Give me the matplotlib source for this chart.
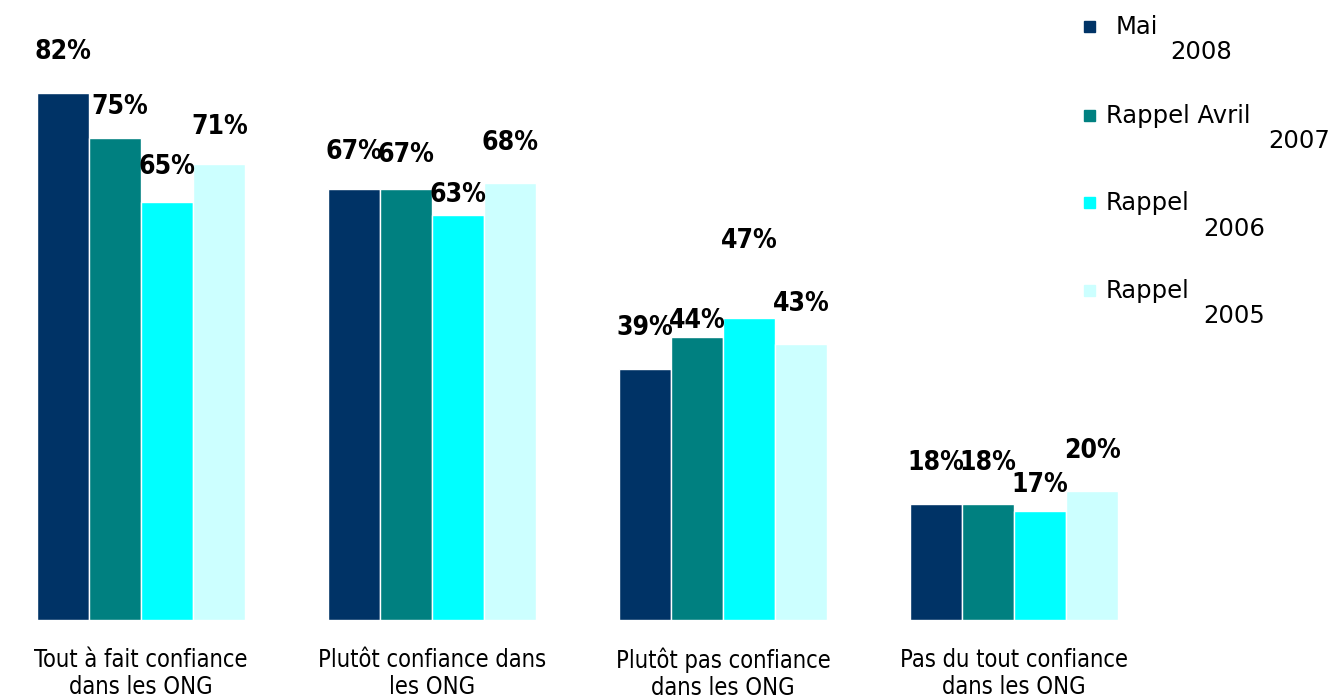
import matplotlib
matplotlib.use("Agg")
import matplotlib.pyplot as plt
import numpy as np

categories = ["Tout à fait confiance\ndans les ONG", "Plutôt confiance dans\nles ONG",
              "Plutôt pas confiance\ndans les ONG", "Pas du tout confiance\ndans les ONG"]
series_names = ["Mai 2008", "Rappel Avril 2007", "Rappel 2006", "Rappel 2005"]
mai_2008 = [82, 67, 39, 18]
avril_2007 = [75, 67, 44, 18]
rappel_2006 = [65, 63, 47, 17]
rappel_2005 = [71, 68, 43, 20]
series = [mai_2008, avril_2007, rappel_2006, rappel_2005]
colors = ["#003366", "#008080", "#00FFFF", "#CCFFFF"]
# label offsets above bar tops (pixels), per series x category
label_dy = [[41, 37, 41, 41], [31, 34, 16, 41], [35, 20, 77, 26], [37, 40, 40, 40]]
label_dx = [[0, 0, 0, 0], [5, 0, 0, 0], [0, 0, 0, 0], [1, 0, 0, 0]]

W, H = 1334, 699
fig = plt.figure(figsize=(W / 100, H / 100), dpi=100)
ax = fig.add_axes([0, 79 / H, 1, 620 / H])
px_per_unit = 291.0
x0 = 141.0
ax.set_xlim((0 - x0) / px_per_unit, (W - x0) / px_per_unit)
ax.set_ylim(0, 620 / (527 / 82))
for s in ax.spines.values():
    s.set_visible(False)
ax.set_yticks([])

x = np.arange(len(categories))
bw = 52 / px_per_unit
offsets = np.array([-1.5, -0.5, 0.5, 1.5]) * bw
for i, (vals, col) in enumerate(zip(series, colors)):
    ax.bar(x + offsets[i], vals, width=bw, color=col, edgecolor="white", linewidth=1.0)
    for j, v in enumerate(vals):
        ax.annotate(f"{v}%", (x[j] + offsets[i], v),
                    xytext=(label_dx[i][j] * 0.72, label_dy[i][j] * 0.72),
                    textcoords="offset points", ha="center", va="center",
                    fontsize=19, fontweight="bold", fontstretch="condensed", color="black")

ax.set_xticks(x)
ax.set_xticklabels(categories, fontsize=17, fontstretch="condensed", linespacing=1.15)
ax.tick_params(axis="x", length=0, pad=20)

# legend (manual, mimicking wrapped layout)
leg = [("Mai", "2008", 1116, 27, 1170, 52),
       ("Rappel Avril", "2007", 1106, 116, 1268, 141),
       ("Rappel", "2006", 1106, 203, 1203, 229),
       ("Rappel", "2005", 1106, 291, 1203, 316)]
for (t1, t2, tx1, ty1, tx2, ty2), col in zip(leg, colors):
    fig.patches.append(plt.Rectangle((1084 / W, 1 - (ty1 + 5) / H), 11 / W, 11 / H,
                                     transform=fig.transFigure, color=col))
    fig.text(tx1 / W, 1 - ty1 / H, t1, fontsize=17.5, va="center", ha="left")
    fig.text(tx2 / W, 1 - ty2 / H, t2, fontsize=17.5, va="center", ha="left")

fig.savefig("out.png", dpi=100)
